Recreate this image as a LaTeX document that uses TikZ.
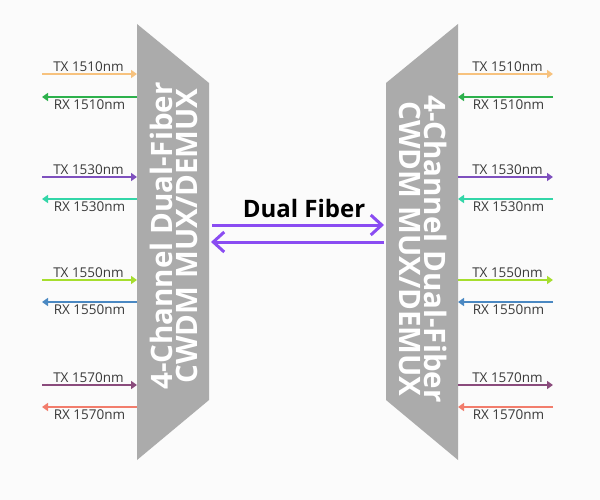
\documentclass[tikz,border=0pt]{standalone}
\usepackage{fontspec}
\setmainfont{Open Sans}
\usetikzlibrary{arrows.meta}
\definecolor{bg}{HTML}{FBFBFB}
\definecolor{boxgray}{HTML}{ABABAB}
\definecolor{labgray}{HTML}{3A3A3A}
\definecolor{cA}{HTML}{F7C27E}
\definecolor{cB}{HTML}{2DB14C}
\definecolor{cC}{HTML}{7E50BE}
\definecolor{cD}{HTML}{33D6A8}
\definecolor{cE}{HTML}{A6DE2E}
\definecolor{cF}{HTML}{4A88C2}
\definecolor{cG}{HTML}{8A4B7C}
\definecolor{cH}{HTML}{F27D6C}
\definecolor{fib}{HTML}{8A4CF2}
\begin{document}
\begin{tikzpicture}[x=1pt,y=-1pt,
  chan/.style={line width=2pt,-{Triangle[length=6pt,width=8pt]}},
  lab/.style={font=\fontsize{13.5}{14}\selectfont, text=labgray, inner sep=1.5pt},
  boxtxt/.style={align=center, text=white, font=\fontsize{29.5}{25.5}\selectfont\bfseries},
  fiber/.style={line width=3pt, draw=fib, -{Straight Barb[length=11pt,width=20pt]}}]
\useasboundingbox[fill=bg] (0,0) rectangle (600,500);
% shapes
\fill[boxgray] (137,24) -- (209,83) -- (209,400) -- (137,460) -- cycle;
\fill[boxgray] (458,24) -- (386,83) -- (386,400) -- (458,460) -- cycle;
\node[boxtxt, rotate=90] (ltxt) at (174,236) {4-Channel Dual-Fiber\\CWDM MUX/DEMUX};
\node[boxtxt, rotate=-90] (rtxt) at (423,249) {4-Channel Dual-Fiber\\CWDM MUX/DEMUX};
% ports
\foreach \i/\ty/\ry/\ct/\cr/\w in {1/74/97/cA/cB/1510, 2/177/199/cC/cD/1530, 3/280/302/cE/cF/1550, 4/385/407/cG/cH/1570}{
  \coordinate (LT\i a) at (42,\ty);  \coordinate (LT\i b) at (137,\ty);
  \coordinate (LR\i a) at (137,\ry); \coordinate (LR\i b) at (42,\ry);
  \draw[chan, draw=\ct] (LT\i a) -- node[lab, above, xshift=-1pt] (LTl\i) {TX \w nm} (LT\i b);
  \draw[chan, draw=\cr] (LR\i a) -- node[lab, below, xshift=0pt] (LRl\i) {RX \w nm} (LR\i b);
  \coordinate (RT\i a) at (458,\ty); \coordinate (RT\i b) at (553,\ty);
  \coordinate (RR\i a) at (553,\ry); \coordinate (RR\i b) at (458,\ry);
  \draw[chan, draw=\ct] (RT\i a) -- node[lab, above, xshift=2pt] (RTl\i) {TX \w nm} (RT\i b);
  \draw[chan, draw=\cr] (RR\i a) -- node[lab, below, xshift=3pt] (RRl\i) {RX \w nm} (RR\i b);
}
% dual fiber
\coordinate (F1a) at (212,225); \coordinate (F1b) at (384,225);
\coordinate (F2a) at (384,242); \coordinate (F2b) at (211,242);
\draw[fiber] (F1a) -- (F1b);
\draw[fiber] (F2a) -- (F2b);
\node[font=\fontsize{24}{26}\selectfont\bfseries, text=black] (flab) at (304,208) {Dual Fiber};
\end{tikzpicture}
\end{document}
